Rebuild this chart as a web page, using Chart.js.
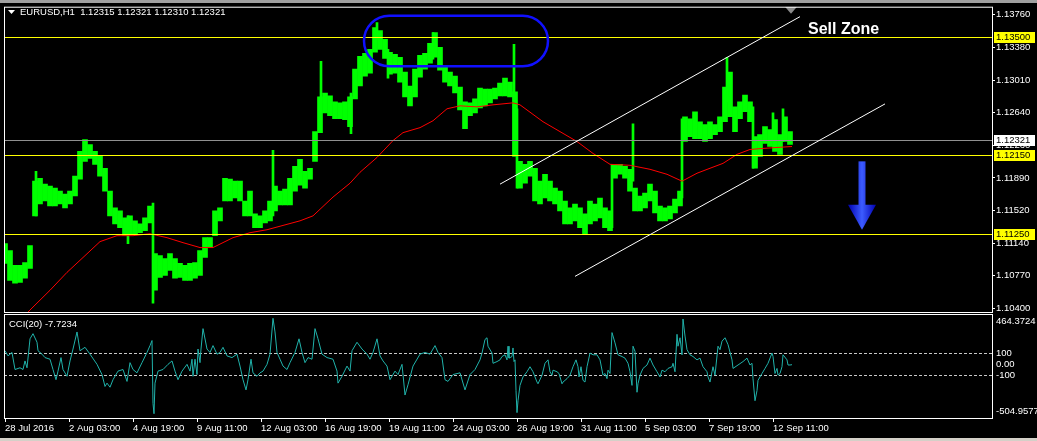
<!DOCTYPE html>
<html>
<head>
<meta charset="utf-8">
<script src="https://cdn.jsdelivr.net/npm/chart.js@4"></script>
<style>
  html, body { margin: 0; padding: 0; background: #000; }
  body { width: 1037px; height: 441px; position: relative; overflow: hidden; }
  #priceChart { position: absolute; left: 0; top: 0; }
  #cciChart { position: absolute; left: 0; top: 313px; z-index: 2; }
  .chrome-top { position: absolute; left: 0; top: 0; width: 1037px; height: 3px; background: #a0a0a0; z-index: 3; }
  .chrome-bottom { position: absolute; left: 0; top: 438px; width: 1037px; height: 3px; background: #d4d0c8; z-index: 3; }
</style>
</head>
<body>
<div class="chrome-top"></div>
<canvas id="priceChart" width="1037" height="320"></canvas>
<canvas id="cciChart" width="1037" height="128"></canvas>
<div class="chrome-bottom"></div>
<script>
// EURUSD H1, sampled every 5 bars (bar number = hour index on screen)
const barStart = 5;
const barStep = 5;
const barHigh = [
  1.11138, 1.11059, 1.10888, 1.10888, 1.10922, 1.11115, 1.11853, 1.11887, 1.11819, 1.11796,
  1.11774, 1.11740, 1.11705, 1.11740, 1.11910, 1.12194, 1.12330, 1.12273, 1.12194, 1.12137,
  1.12001, 1.11740, 1.11547, 1.11513, 1.11433, 1.11456, 1.11399, 1.11365, 1.11433, 1.11569,
  1.11024, 1.11002, 1.10968, 1.11024, 1.10968, 1.10911, 1.10888, 1.10911, 1.10922, 1.11059,
  1.11206, 1.11206, 1.11513, 1.11547, 1.11887, 1.11876, 1.11853, 1.11853, 1.11626, 1.11740,
  1.11479, 1.11456, 1.11513, 1.11626, 1.11796, 1.11740, 1.11762, 1.11887, 1.12023, 1.12103,
  1.11967, 1.12001, 1.12421, 1.12818, 1.12863, 1.12829, 1.12761, 1.12750, 1.12761, 1.12818,
  1.13136, 1.13283, 1.13317, 1.13363, 1.13612, 1.13578, 1.13476, 1.13329, 1.13306, 1.13272,
  1.13102, 1.12943, 1.13136, 1.13294, 1.13317, 1.13431, 1.13556, 1.13385, 1.13170, 1.13102,
  1.13056, 1.12931, 1.12761, 1.12750, 1.12795, 1.12920, 1.12909, 1.12909, 1.12920, 1.12977,
  1.13033, 1.12988, 1.12875, 1.12080, 1.12046, 1.12080, 1.12001, 1.11853, 1.11932, 1.11853,
  1.11774, 1.11740, 1.11626, 1.11547, 1.11592, 1.11547, 1.11479, 1.11626, 1.11592, 1.11660,
  1.11547, 1.11513, 1.12046, 1.12046, 1.12023, 1.11989, 1.11774, 1.11683, 1.11717, 1.11819,
  1.11740, 1.11569, 1.11547, 1.11569, 1.11649, 1.11740, 1.12591, 1.12568, 1.12648, 1.12534,
  1.12500, 1.12534, 1.12500, 1.12591, 1.12931, 1.13102, 1.12704, 1.12761, 1.12840, 1.12761,
  1.12364, 1.12386, 1.12477, 1.12443, 1.12557, 1.12386, 1.12591, 1.12421
];
const barLow = [
  1.10911, 1.10718, 1.10684, 1.10695, 1.10741, 1.10854, 1.11456, 1.11592, 1.11626, 1.11569,
  1.11569, 1.11592, 1.11547, 1.11592, 1.11683, 1.11876, 1.12080, 1.12114, 1.12046, 1.11910,
  1.11740, 1.11456, 1.11365, 1.11320, 1.11229, 1.11251, 1.11251, 1.11263, 1.11286, 1.11376,
  1.10605, 1.10752, 1.10775, 1.10832, 1.10741, 1.10752, 1.10718, 1.10718, 1.10741, 1.10775,
  1.10979, 1.11093, 1.11229, 1.11399, 1.11626, 1.11626, 1.11660, 1.11626, 1.11456, 1.11456,
  1.11320, 1.11320, 1.11376, 1.11399, 1.11513, 1.11581, 1.11581, 1.11581, 1.11740, 1.11808,
  1.11774, 1.11876, 1.12080, 1.12409, 1.12636, 1.12602, 1.12568, 1.12568, 1.12557, 1.12477,
  1.12795, 1.12943, 1.13056, 1.13090, 1.13329, 1.13363, 1.13260, 1.13079, 1.13090, 1.12988,
  1.12818, 1.12716, 1.12818, 1.13045, 1.13136, 1.13204, 1.13272, 1.13124, 1.12988, 1.12943,
  1.12863, 1.12670, 1.12455, 1.12602, 1.12636, 1.12693, 1.12716, 1.12750, 1.12795, 1.12829,
  1.12829, 1.12818, 1.12137, 1.11774, 1.11830, 1.11910, 1.11626, 1.11592, 1.11660, 1.11626,
  1.11592, 1.11513, 1.11365, 1.11365, 1.11399, 1.11320, 1.11251, 1.11365, 1.11399, 1.11433,
  1.11320, 1.11286, 1.11887, 1.11932, 1.11887, 1.11740, 1.11513, 1.11513, 1.11547, 1.11626,
  1.11490, 1.11399, 1.11399, 1.11422, 1.11490, 1.11569, 1.12307, 1.12364, 1.12341, 1.12341,
  1.12307, 1.12341, 1.12386, 1.12421, 1.12534, 1.12591, 1.12421, 1.12568, 1.12648, 1.12534,
  1.12001, 1.12137, 1.12284, 1.12250, 1.12194, 1.12160, 1.12307, 1.12273
];
// single bars with long wicks
const spikeBars = [36, 128, 153, 273, 321, 351, 377, 388, 433, 514, 517, 612, 633, 682, 727, 753, 773, 783];
const spikeHigh = [1.11967, 1.11456, 1.11603, 1.12205, 1.13226, 1.12863, 1.13669, 1.13363, 1.13556, 1.13419, 1.12682, 1.12046, 1.12511, 1.12568, 1.13272, 1.12704, 1.12636, 1.12682];
const spikeLow = [1.11456, 1.11138, 1.10457, 1.11456, 1.12750, 1.12398, 1.13476, 1.13033, 1.13249, 1.12194, 1.11774, 1.11320, 1.11853, 1.11660, 1.12761, 1.12001, 1.12307, 1.12307];

// moving average (red)
const maBars = [24, 33, 50, 67, 83, 100, 117, 133, 150, 167, 183, 200, 213, 233, 250, 267, 300, 313, 333, 350,
  360, 377, 393, 403, 420, 433, 447, 460, 477, 493, 513, 520, 543, 577, 593, 610, 630, 650, 667, 682,
  697, 710, 723, 737, 750, 763, 777, 792];
const maValues = [1.10309, 1.10412, 1.10604, 1.10809, 1.10979, 1.11161, 1.11229, 1.11229, 1.11251, 1.11206,
  1.11149, 1.11093, 1.11093, 1.11206, 1.11263, 1.11297, 1.11399, 1.11456, 1.11671, 1.11830,
  1.11955, 1.12125, 1.12318, 1.12409, 1.12466, 1.12545, 1.12682, 1.12716, 1.12704, 1.12727,
  1.12750, 1.12727, 1.12534, 1.12307, 1.12171, 1.12046, 1.12035, 1.11989, 1.11932, 1.11853,
  1.11944, 1.12001, 1.12057, 1.12160, 1.12216, 1.12228, 1.12239, 1.12250];

// CCI(20)
const cciBars = [5, 8, 12, 15, 20, 23, 25, 27, 30, 33, 37, 38, 42, 45, 50, 53, 56, 58, 61, 63, 67, 70, 73, 77, 80, 85, 90, 97,
  102, 105, 107, 110, 113, 118, 123, 127, 130, 133, 137, 142, 147, 150, 152, 153, 154, 155, 158, 163, 168, 172, 175, 178,
  182, 187, 190, 192, 193, 195, 197, 198, 200, 201, 203, 207, 210, 213, 217, 220, 223, 227, 232, 237, 240, 243, 246, 248,
  251, 253, 257, 260, 263, 267, 270, 273, 275, 277, 280, 283, 287, 290, 295, 299, 302, 305, 308, 312, 315, 318, 322, 327,
  333, 337, 338, 342, 347, 350, 352, 357, 362, 367, 370, 373, 377, 380, 383, 387, 390, 395, 398, 402, 405, 408, 413, 420,
  425, 430, 435, 438, 442, 445, 448, 453, 460, 465, 470, 475,
  480, 482, 485, 487, 488, 492, 493, 497, 500, 502, 505, 507, 508, 509, 512, 513, 514, 515, 516, 517, 518, 520, 523, 527,
  530, 533, 537, 538, 542, 545, 548, 550, 552, 553, 557, 559, 562, 563, 567, 570, 573, 576, 578, 579, 581, 583, 585, 587,
  590, 593, 597, 600, 603, 605, 607, 608, 610, 612, 615, 618, 622, 625, 628, 630, 632, 633, 635, 637, 638, 640, 643, 647,
  650, 653, 657, 660, 662, 665, 668, 672, 673, 675, 677, 678, 680, 682, 683, 685, 687, 690, 693, 697, 700, 703, 707, 708,
  710, 712, 713, 715, 718, 720, 722, 725, 728, 732, 733, 738, 743, 747, 750, 752, 753, 755, 757, 758, 762, 765, 768, 772,
  773, 775, 777, 778, 780, 782, 783, 787, 788, 790, 792];
const cciValues = [122, 74, 106, -53, -37, -53, 27, -37, 233, 281, 201, 122, 90, 58, 43, -53, -148, -68, 58, -53, -116, 27, 138, 297, 122, 154, 90, -5,
  -100, -211, -180, -218, -148, -68, -53, -164, 11, -53, -84, 11, 106, 170, 217, -370, -465, -180, -68, -53, -5, 27, -68, -148,
  -68, -5, -68, 43, -116, 43, -100, 138, 11, 138, 328, 138, 106, 170, 90, 106, 154, 74, 58, 90, -21, -148, -243, -148,
  43, -84, -116, -84, -68, -5, 90, 424, 297, 106, 43, -21, -53, 11, 106, 233, 106, 11, 58, 43, 328, 233, 90, 58,
  43, -68, -180, -116, -21, -68, 122, 201, 138, 90, 43, 106, 233, 74, 27, -21, -148, -68, -100, -5, -291, -195, -21, 90,
  106, 90, 170, 106, 58, -148, -164, -100, -84, -243, -100, -53,
  37, 100, 227, 243, 164, 100, 5, 21, 37, 68, 84, 37, 164, 53, 68, 148, 21, 37, -249, -455, -344, -201, -122, -74,
  -27, -74, -170, -186, -106, 5, 37, -74, -106, -59, -74, -90, -186, -170, -138, -106, -27, 37, -27, -122, -27, -154, -170, -27,
  100, 84, 84, 37, -106, -90, -138, -59, -90, 291, 195, 84, 68, 53, 5, -74, -201, 164, 116, -265, -186, -106, -43, -11,
  53, -11, -74, -122, -59, -74, -43, -27, 5, -74, 275, 164, 243, 84, 418, 259, 132, 84, 68, 37, 53, -27, -74, -122,
  -170, -74, -27, -106, 164, 132, 211, 243, 180, 37, -43, -11, 21, 53, -11, 5, -138, -344, -249, -154, -90, -43, 5, 100,
  68, -90, -43, -106, -90, -27, 84, 37, -11, -11, -8];

// axes
const timeTickBars = [5, 69, 133, 197, 261, 325, 389, 453, 517, 581, 645, 709, 773];
const timeTickLabels = ['28 Jul 2016', '2 Aug 03:00', '4 Aug 19:00', '9 Aug 11:00', '12 Aug 03:00', '16 Aug 19:00',
  '19 Aug 11:00', '24 Aug 03:00', '26 Aug 19:00', '31 Aug 11:00', '5 Sep 03:00', '7 Sep 19:00', '12 Sep 11:00'];
const priceTicks = [1.10400, 1.10770, 1.11140, 1.11520, 1.11890, 1.12260, 1.12640, 1.13010, 1.13380, 1.13760];
const priceMin = 1.10355, priceMax = 1.13851;
const cciMin = -504.9577, cciMax = 464.3724;
const cciTicks = [464.3724, 100, 0, -100, -504.9577];
const cciTickLabels = ['464.3724', '100', '0.00', '-100', '-504.9577'];
const cciLevels = [100, -100];

// drawn objects (bar, price)
const levels = [1.13500, 1.12150, 1.11250];
const bidPrice = 1.12321;
const channelUpper = [[500, 1.11819], [800, 1.13737]];
const channelLower = [[575, 1.10763], [885, 1.12738]];
const zoneBars = [364, 548];
const zonePrices = [1.13748, 1.13170];
const arrowBar = 862;
const arrowPrices = [1.12080, 1.11297];
const sellLabelAt = [808, 1.13544];

const axisFont = { family: '"Liberation Sans", Arial, sans-serif', size: 9.5 };
const fontStr = '9.5px "Liberation Sans", Arial, sans-serif';

const priceOverlay = {
    id: 'priceOverlay',
    afterDatasetsDraw(chart) {
        const { ctx, chartArea: a, scales: { x, y } } = chart;
        ctx.save();
        ctx.beginPath();
        ctx.rect(a.left, a.top, a.right - a.left, a.bottom - a.top);
        ctx.clip();

        const hline = (p, color) => {
            const py = Math.round(y.getPixelForValue(p)) + 0.5;
            ctx.strokeStyle = color;
            ctx.lineWidth = 1;
            ctx.beginPath();
            ctx.moveTo(a.left, py);
            ctx.lineTo(a.right, py);
            ctx.stroke();
        };
        hline(bidPrice, '#909090');
        levels.forEach(p => hline(p, '#ffff00'));

        // trend channel
        ctx.strokeStyle = '#ffffff';
        ctx.lineWidth = 1;
        [channelUpper, channelLower].forEach(seg => {
            ctx.beginPath();
            ctx.moveTo(x.getPixelForValue(seg[0][0]), y.getPixelForValue(seg[0][1]));
            ctx.lineTo(x.getPixelForValue(seg[1][0]), y.getPixelForValue(seg[1][1]));
            ctx.stroke();
        });

        // rounded zone around the tops
        const bx1 = x.getPixelForValue(zoneBars[0]), bx2 = x.getPixelForValue(zoneBars[1]);
        const by1 = y.getPixelForValue(zonePrices[0]), by2 = y.getPixelForValue(zonePrices[1]);
        const r = (by2 - by1) / 2;
        ctx.strokeStyle = '#1010ff';
        ctx.lineWidth = 2.5;
        ctx.beginPath();
        ctx.roundRect(bx1, by1, bx2 - bx1, by2 - by1, r);
        ctx.stroke();

        // down arrow
        const ax = x.getPixelForValue(arrowBar);
        const ay1 = y.getPixelForValue(arrowPrices[0]);
        const ay2 = y.getPixelForValue(arrowPrices[1]);
        const headLen = 25, headHalf = 14, shaftHalf = 3.5;
        const g = ctx.createLinearGradient(ax - headHalf, 0, ax + headHalf, 0);
        g.addColorStop(0, '#0000b0');
        g.addColorStop(0.5, '#3c5cff');
        g.addColorStop(1, '#0000b0');
        ctx.fillStyle = g;
        ctx.fillRect(ax - shaftHalf, ay1, shaftHalf * 2, ay2 - ay1 - headLen + 2);
        ctx.beginPath();
        ctx.moveTo(ax - headHalf, ay2 - headLen);
        ctx.lineTo(ax + headHalf, ay2 - headLen);
        ctx.lineTo(ax, ay2);
        ctx.closePath();
        ctx.fill();

        // chart shift marker
        const sx = x.getPixelForValue(791);
        ctx.fillStyle = '#8a8a8a';
        ctx.beginPath();
        ctx.moveTo(sx - 6, a.top);
        ctx.lineTo(sx + 6, a.top);
        ctx.lineTo(sx, a.top + 7);
        ctx.closePath();
        ctx.fill();
        ctx.restore();

        // text label
        ctx.save();
        ctx.fillStyle = '#ffffff';
        ctx.font = 'bold 16px "Liberation Sans", Arial, sans-serif';
        ctx.textBaseline = 'alphabetic';
        ctx.textAlign = 'left';
        ctx.fillText('Sell Zone', x.getPixelForValue(sellLabelAt[0]), y.getPixelForValue(sellLabelAt[1]));
        ctx.restore();
    },
    afterDraw(chart) {
        const { ctx, chartArea: a, scales: { y } } = chart;
        ctx.save();
        // panel frame
        ctx.strokeStyle = '#ffffff';
        ctx.lineWidth = 1;
        ctx.strokeRect(a.left + 0.5, a.top + 0.5, a.right - a.left, a.bottom - a.top);

        // highlighted price labels
        ctx.font = fontStr;
        ctx.textBaseline = 'middle';
        ctx.textAlign = 'left';
        const tag = (p, bg) => {
            const py = Math.round(y.getPixelForValue(p));
            ctx.fillStyle = bg;
            ctx.fillRect(a.right + 2, py - 5, 41, 11);
            ctx.fillStyle = '#000000';
            ctx.fillText(p.toFixed(5), a.right + 4, py + 0.5);
        };
        tag(bidPrice, '#ffffff');
        levels.forEach(p => tag(p, '#ffff00'));

        // title
        ctx.fillStyle = '#ffffff';
        ctx.beginPath();
        ctx.moveTo(8, 10);
        ctx.lineTo(15, 10);
        ctx.lineTo(11.5, 14);
        ctx.closePath();
        ctx.fill();
        ctx.fillText('EURUSD,H1  1.12315 1.12321 1.12310 1.12321', 20, 12.5);
        ctx.restore();
    }
};

const cciOverlay = {
    id: 'cciOverlay',
    beforeDatasetsDraw(chart) {
        const { ctx, chartArea: a, scales: { y } } = chart;
        ctx.save();
        ctx.strokeStyle = '#c8c8c8';
        ctx.lineWidth = 1;
        ctx.setLineDash([3, 2]);
        cciLevels.forEach(v => {
            const py = Math.round(y.getPixelForValue(v)) + 0.5;
            ctx.beginPath();
            ctx.moveTo(a.left, py);
            ctx.lineTo(a.right, py);
            ctx.stroke();
        });
        ctx.restore();
    },
    afterDraw(chart) {
        const { ctx, chartArea: a, scales: { y } } = chart;
        ctx.save();
        ctx.strokeStyle = '#ffffff';
        ctx.lineWidth = 1;
        ctx.strokeRect(a.left + 0.5, a.top + 0.5, a.right - a.left, a.bottom - a.top);

        ctx.font = fontStr;
        ctx.fillStyle = '#ffffff';
        ctx.textBaseline = 'middle';
        ctx.textAlign = 'left';
        cciTicks.forEach((v, i) => {
            let py = y.getPixelForValue(v);
            py = Math.min(Math.max(py, a.top + 7), a.bottom - 7);
            ctx.fillText(cciTickLabels[i], a.right + 4, py + 0.5);
        });
        ctx.fillText('CCI(20) -7.7234', 9, a.top + 10);
        ctx.restore();
    }
};

Chart.defaults.font.family = axisFont.family;
Chart.defaults.font.size = axisFont.size;
Chart.defaults.color = '#ffffff';

const priceChart = new Chart(document.getElementById('priceChart'), {
    type: 'bar',
    data: {
        datasets: [
            {
                type: 'line',
                label: 'MA',
                data: maBars.map((b, i) => ({ x: b, y: maValues[i] })),
                borderColor: '#ff0000',
                borderWidth: 1,
                pointRadius: 0,
                tension: 0,
                order: 0
            },
            {
                label: 'EURUSD',
                data: barHigh.map((h, i) => ({ x: barStart + i * barStep, y: [barLow[i], h] })),
                backgroundColor: '#00ff00',
                borderWidth: 0,
                barThickness: 5,
                grouped: false,
                order: 2
            },
            {
                label: 'EURUSD wicks',
                data: spikeBars.map((b, i) => ({ x: b, y: [spikeLow[i], spikeHigh[i]] })),
                backgroundColor: '#00ff00',
                borderWidth: 0,
                barThickness: 2,
                grouped: false,
                order: 1
            }
        ]
    },
    options: {
        responsive: false,
        animation: false,
        layout: { padding: { left: 4, top: 4, right: 0, bottom: 8 } },
        plugins: { legend: { display: false }, tooltip: { enabled: false } },
        scales: {
            x: { type: 'linear', min: 4, max: 992, offset: false, display: false },
            y: {
                type: 'linear',
                position: 'right',
                min: priceMin,
                max: priceMax,
                afterBuildTicks: s => { s.ticks = priceTicks.map(v => ({ value: v })); },
                afterFit: s => { s.width = 45; },
                grid: { drawOnChartArea: false, drawTicks: true, tickLength: 3, color: '#ffffff' },
                border: { display: false },
                ticks: { color: '#ffffff', padding: 1, autoSkip: false, callback: v => Number(v).toFixed(5) }
            }
        }
    },
    plugins: [priceOverlay]
});

const cciChart = new Chart(document.getElementById('cciChart'), {
    type: 'line',
    data: {
        datasets: [{
            label: 'CCI(20)',
            data: cciBars.map((b, i) => ({ x: b, y: cciValues[i] })),
            borderColor: '#20b2aa',
            borderWidth: 1,
            pointRadius: 0,
            tension: 0
        }]
    },
    options: {
        responsive: false,
        animation: false,
        layout: { padding: { left: 4, top: 1, right: 45, bottom: 0 } },
        plugins: { legend: { display: false }, tooltip: { enabled: false } },
        scales: {
            x: {
                type: 'linear',
                min: 4,
                max: 992,
                afterBuildTicks: s => { s.ticks = timeTickBars.map(v => ({ value: v })); },
                afterFit: s => { s.height = 23; },
                grid: { drawOnChartArea: false, drawTicks: true, tickLength: 4, color: '#ffffff' },
                border: { display: false },
                ticks: {
                    color: '#ffffff',
                    align: 'start',
                    maxRotation: 0,
                    autoSkip: false,
                    padding: 1,
                    callback: (v, i) => timeTickLabels[i]
                }
            },
            y: { type: 'linear', min: cciMin, max: cciMax, display: false }
        }
    },
    plugins: [cciOverlay]
});
</script>
</body>
</html>
